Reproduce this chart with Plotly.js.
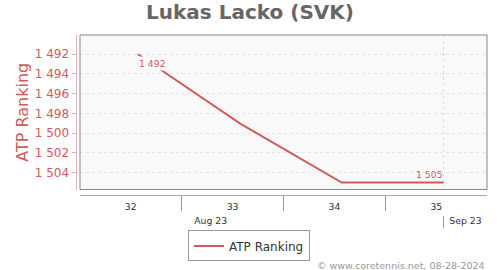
<!DOCTYPE html>
<html><head><meta charset="utf-8">
<script src="https://cdn.plot.ly/plotly-3.0.1.min.js"></script>
<style>html,body{margin:0;padding:0;background:#fff}#chart{width:500px;height:270px}</style>
</head><body><div id="chart"></div>
<script>
// ---- data ----
const dates = ['2023-08-11', '2023-08-18', '2023-08-25', '2023-09-01'];
const rankings = [1492, 1499, 1505, 1505];
const seriesName = 'ATP Ranking';
const monthLabelDates = ['2023-08-16', '2023-09-02 12:00'];
const monthLabels = ['Aug 23', 'Sep 23'];
const chartTitle = 'Lukas Lacko (SVK)';
const credits = '© www.coretennis.net, 08-28-2024';

const RED = '#cd5c5c';
const FONT = 'DejaVu Sans';
const fmt = v => String(v).replace(/\B(?=(\d{3})+(?!\d))/g, ' ');
const DAY = 86400000;

const traces = [
  {x: dates, y: rankings, type: 'scatter', mode: 'lines', name: seriesName,
   line: {color: RED, width: 2}, hoverinfo: 'skip', xaxis: 'x', yaxis: 'y'},
  {x: dates, y: dates.map(() => null), type: 'scatter', mode: 'lines', showlegend: false,
   hoverinfo: 'skip', xaxis: 'x2', yaxis: 'y'},
  {x: dates, y: dates.map(() => null), type: 'scatter', mode: 'lines', showlegend: false,
   hoverinfo: 'skip', xaxis: 'x3', yaxis: 'y'}
];

const last = rankings.length - 1;
const labelFont = {family: FONT, size: 9.3, color: RED};

const layout = {
  width: 500, height: 270,
  margin: {l: 0, r: 0, t: 0, b: 0},
  paper_bgcolor: '#ffffff',
  plot_bgcolor: '#f9f9f9',
  separators: '. ',
  hovermode: false,
  font: {family: FONT},
  title: {text: chartTitle, x: 0.5, xanchor: 'center', y: 0.9556, yanchor: 'middle',
          font: {family: FONT, size: 20, weight: 'bold', color: '#666666'}},
  xaxis: {
    type: 'date', domain: [0.16, 0.974],
    range: ['2023-08-07 00:30', '2023-09-03 23:30'],
    anchor: 'free', position: 0.2778,
    showline: true, linecolor: '#aaaaaa', linewidth: 1,
    showgrid: false, zeroline: false,
    tickmode: 'linear', tick0: '2023-08-07', dtick: 7 * DAY,
    ticklabelmode: 'period', tickformat: '%V',
    ticks: 'outside', ticklen: 15, tickcolor: '#999999', tickwidth: 1,
    ticklabelstandoff: -12,
    tickfont: {family: FONT, size: 9.3, color: '#333333'},
    fixedrange: true
  },
  xaxis2: {
    type: 'date', overlaying: 'x', matches: 'x',
    anchor: 'free', position: 0.2037,
    showline: false, zeroline: false,
    tickmode: 'linear', tick0: '2023-08-01', dtick: 'M1',
    ticks: 'outside', ticklen: 12, tickcolor: '#999999', tickwidth: 1,
    showticklabels: false,
    showgrid: true, gridcolor: '#dddddd', griddash: '3px,3px', gridwidth: 1,
    fixedrange: true
  },
  xaxis3: {
    type: 'date', overlaying: 'x', matches: 'x',
    anchor: 'free', position: 0.2074,
    showline: false, zeroline: false, showgrid: false,
    tickmode: 'array', tickvals: monthLabelDates, ticktext: monthLabels,
    ticks: '',
    tickfont: {family: FONT, size: 9.3, color: '#333333'},
    fixedrange: true
  },
  yaxis: {
    domain: [0.2981, 0.8704],
    range: [1505.7, 1490.05],
    anchor: 'free', position: 0.151,
    showline: true, linecolor: '#e2b3b3', linewidth: 1,
    ticks: 'outside', ticklen: 4, tickcolor: '#e2b3b3', tickwidth: 1,
    tickmode: 'linear', tick0: 1492, dtick: 2, tickformat: ',d',
    tickfont: {family: FONT, size: 12, color: RED},
    showgrid: true, gridcolor: '#e3e3e3', griddash: '3px,3px', gridwidth: 1,
    zeroline: false, fixedrange: true,
    title: {text: seriesName, standoff: 1, font: {family: FONT, size: 16, color: RED}}
  },
  showlegend: true,
  legend: {
    x: 0.498, xanchor: 'center', y: 0.089, yanchor: 'middle',
    orientation: 'h', bgcolor: '#ffffff', bordercolor: '#999999', borderwidth: 1,
    font: {family: FONT, size: 12, color: '#333333'}, itemwidth: 30
  },
  shapes: [
    {type: 'rect', xref: 'x domain', yref: 'y domain', x0: 0, x1: 1, y0: 0, y1: 1,
     line: {color: '#888888', width: 1}, fillcolor: 'rgba(0,0,0,0)', layer: 'above'}
  ],
  annotations: [
    {x: dates[0], y: rankings[0], xref: 'x', yref: 'y', text: fmt(rankings[0]),
     showarrow: false, xanchor: 'left', yanchor: 'top', xshift: -1, yshift: -2,
     bgcolor: '#f9f9f9', borderpad: 1, font: labelFont},
    {x: dates[last], y: rankings[last], xref: 'x', yref: 'y', text: fmt(rankings[last]),
     showarrow: false, xanchor: 'right', yanchor: 'bottom', xshift: 1, yshift: 1,
     borderpad: 1, font: labelFont},
    {x: 0.974, y: 0.016, xref: 'paper', yref: 'paper', text: credits, showarrow: false,
     xanchor: 'right', yanchor: 'middle', font: {family: FONT, size: 9.5, color: '#999999'}}
  ]
};

Plotly.newPlot('chart', traces, layout, {displayModeBar: false, staticPlot: true});
</script>
</body></html>
